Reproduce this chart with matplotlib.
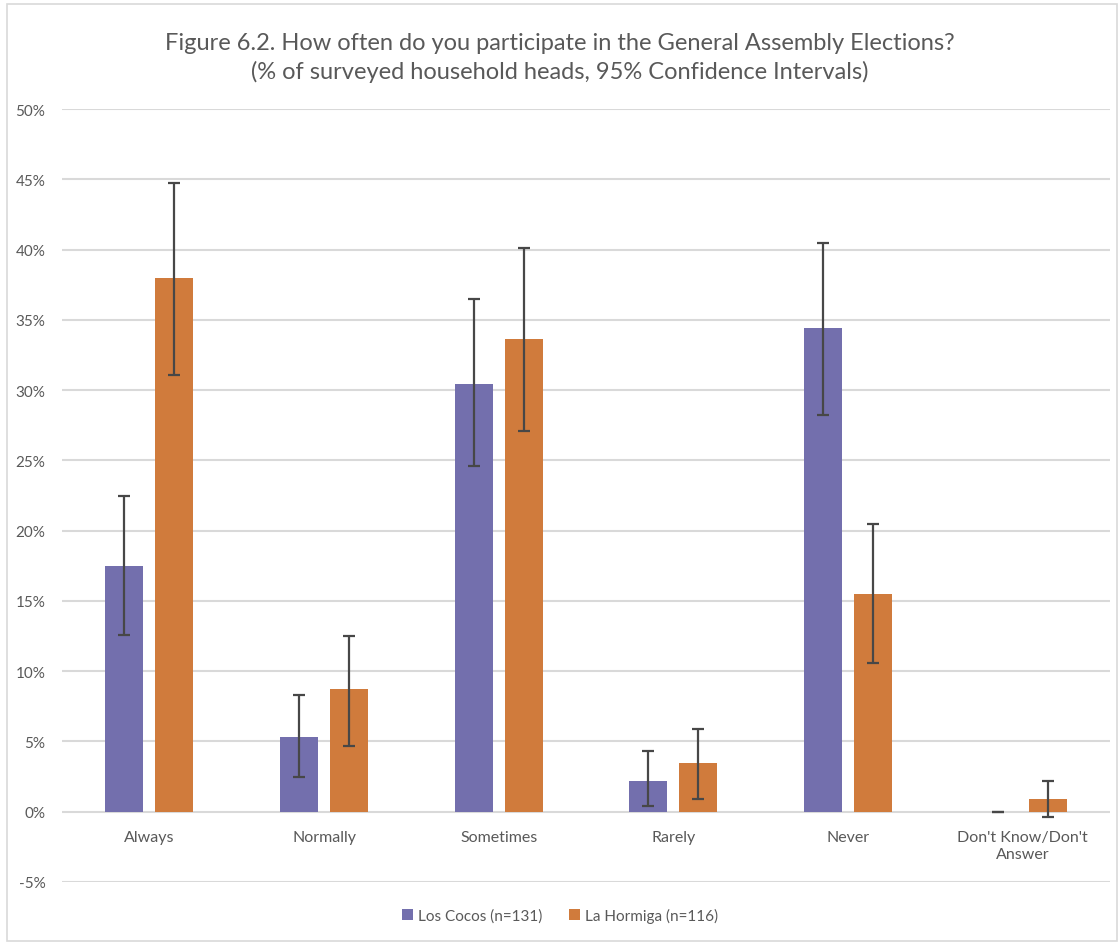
import matplotlib
matplotlib.use("Agg")
import matplotlib.pyplot as plt
import numpy as np
from matplotlib.patches import Rectangle
from matplotlib.ticker import FuncFormatter, MultipleLocator

plt.rcParams['font.family'] = ['Lato', 'DejaVu Sans']

categories = ["Always", "Normally", "Sometimes", "Rarely", "Never", "Don't Know/Don't\nAnswer"]
series_names = ["Los Cocos (n=131)", "La Hormiga (n=116)"]

los_cocos = [17.5, 5.3, 30.4, 2.2, 34.4, 0.0]
los_cocos_low = [12.6, 2.5, 24.6, 0.4, 28.2, 0.0]
los_cocos_high = [22.5, 8.3, 36.5, 4.3, 40.5, 0.0]

la_hormiga = [38.0, 8.7, 33.6, 3.5, 15.5, 0.9]
la_hormiga_low = [31.1, 4.7, 27.1, 0.9, 10.6, -0.4]
la_hormiga_high = [44.7, 12.5, 40.1, 5.9, 20.5, 2.2]

colors = ["#736FAD", "#D07B3C"]
err_color = "#474747"
grid_color = "#D9D9D9"
text_color = "#595959"

fig = plt.figure(figsize=(11.2, 9.45), dpi=100)
fig.patch.set_facecolor("white")

# chart-area border
fig.patches.append(Rectangle((7 / 1120, 3 / 945), 1110 / 1120, 937 / 945,
                             transform=fig.transFigure, fill=False,
                             edgecolor="#D9D9D9", linewidth=1.2))

ax = fig.add_axes([62 / 1120, 62 / 945, 1048 / 1120, 773 / 945])

x = np.arange(len(categories))
width = 0.218
offset = 0.143

for i, (vals, lo, hi) in enumerate([(los_cocos, los_cocos_low, los_cocos_high),
                                    (la_hormiga, la_hormiga_low, la_hormiga_high)]):
    vals = np.array(vals)
    pos = x + (-offset if i == 0 else offset)
    ax.bar(pos, vals, width=width, color=colors[i], label=series_names[i], zorder=2)
    yerr = np.vstack([vals - np.array(lo), np.array(hi) - vals])
    ax.errorbar(pos, vals, yerr=yerr, fmt="none", ecolor=err_color,
                elinewidth=1.6, capsize=4, capthick=1.6, zorder=3)

ax.set_xlim(-0.5, len(categories) - 0.5)
ax.set_ylim(-5, 50)
ax.yaxis.set_major_locator(MultipleLocator(5))
ax.yaxis.set_major_formatter(FuncFormatter(lambda v, p: f"{v:.0f}%"))
ax.grid(axis="y", color=grid_color, linewidth=1.5, zorder=0)
ax.set_axisbelow(True)
for s in ax.spines.values():
    s.set_visible(False)
ax.tick_params(axis="both", length=0, colors=text_color, labelsize=11)
ax.tick_params(axis="y", pad=12)
ax.set_xticks(x)
ax.set_xticklabels([])

# category labels sit just beneath the zero line
for xi, cat in zip(x, categories):
    ax.text(xi, -1.3, cat, transform=ax.transData, ha="center", va="top",
            fontsize=11.5, color=text_color, linespacing=1.3)

fig.text(0.5, 1 - 43 / 945,
         "Figure 6.2. How often do you participate in the General Assembly Elections?",
         ha="center", va="center", fontsize=17, color=text_color)
fig.text(0.5, 1 - 72 / 945,
         "(% of surveyed household heads, 95% Confidence Intervals)",
         ha="center", va="center", fontsize=17, color=text_color)

leg = fig.legend(loc="center", bbox_to_anchor=(0.5, 1 - 916 / 945), ncol=2,
                 frameon=False, fontsize=11, handlelength=0.7, handleheight=0.7,
                 handletextpad=0.3, columnspacing=1.8)
for t in leg.get_texts():
    t.set_color(text_color)

fig.savefig("out.png", dpi=100, facecolor="white")
